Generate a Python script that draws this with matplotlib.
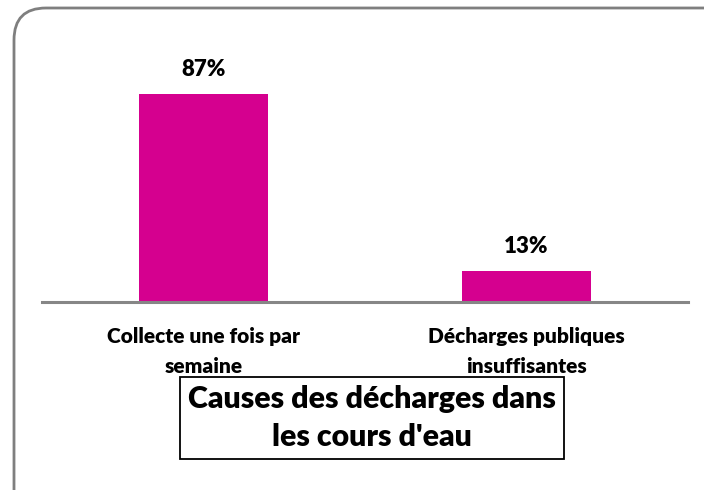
import matplotlib
matplotlib.use("Agg")
import matplotlib.pyplot as plt
from matplotlib.patches import FancyBboxPatch
from matplotlib.transforms import IdentityTransform

categories = ["Collecte une fois par\nsemaine", "Décharges publiques\ninsuffisantes"]
values = [87, 13]
value_labels = ["87%", "13%"]
title = "Causes des décharges dans\nles cours d'eau"

plt.rcParams['font.family'] = ['Lato', 'DejaVu Sans']

fig = plt.figure(figsize=(7.04, 4.90), dpi=100)
W, H = 704, 490

# rounded outer border (extends beyond the right and bottom edges), in pixels
border = FancyBboxPatch((14, -60), 737 - 14, 482 + 60,
                        boxstyle="round,pad=0,rounding_size=32",
                        transform=IdentityTransform(), facecolor="none",
                        edgecolor="#7f7f7f", linewidth=2.0, zorder=-5)
fig.patches.append(border)

ax = fig.add_axes([42 / W, 1 - 302 / H, (688 - 42) / W, (302 - 63) / H])
ax.set_facecolor("none")
x = list(range(len(categories)))
bars = ax.bar(x, values, width=0.40, color="#D5008F", zorder=2)
ax.set_xlim(-0.5, 1.5)
ax.set_ylim(0, 100)
for xi, v, lab in zip(x, values, value_labels):
    ax.annotate(lab, (xi, v), xytext=(0, 10), textcoords="offset points",
                ha="center", va="bottom", fontsize=16, fontweight="heavy")

for s in ["top", "right", "left"]:
    ax.spines[s].set_visible(False)
ax.spines["bottom"].set_color("#868686")
ax.spines["bottom"].set_linewidth(2.2)
ax.set_yticks([])
ax.set_xticks(x)
ax.set_xticklabels(categories, fontsize=15, fontweight="heavy", linespacing=1.68)
ax.tick_params(axis="x", length=0, pad=18)

fig.text(372 / W, 1 - 418 / H, title, ha="center", va="center",
         fontsize=21.8, fontweight="heavy", linespacing=1.42, zorder=-1,
         bbox=dict(boxstyle="square,pad=0.27", facecolor="white",
                   edgecolor="black", linewidth=1.3))

fig.savefig("out.png", dpi=100)
